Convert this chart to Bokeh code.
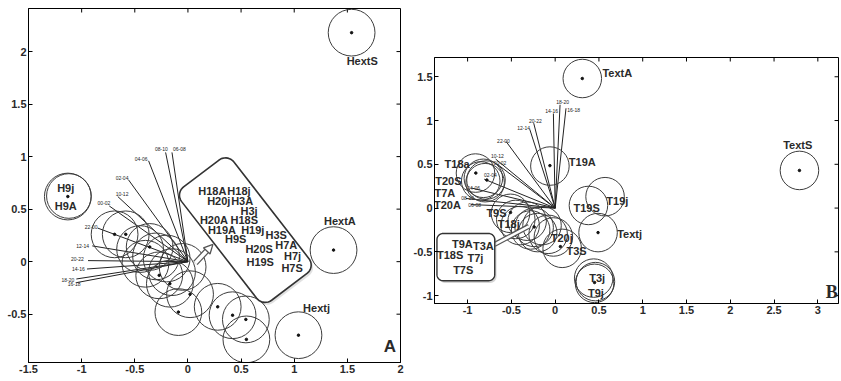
import numpy as np
from bokeh.plotting import figure
from bokeh.layouts import row
from bokeh.models import FixedTicker, Arrow, NormalHead, Range1d
from bokeh.core.properties import value
from bokeh.embed import file_html
from bokeh.resources import INLINE

FONT = "Liberation Sans"
INK = "#2a2a2a"
CIRC = "#3c3c3c"

# ---------------- Panel A data ----------------
a_xticks = [-1.5, -1, -0.5, 0, 0.5, 1, 1.5, 2]
a_yticks = [-0.5, 0, 0.5, 1, 1.5, 2]

a_circle_x = [1.54, -1.13, -1.12, 1.37, 1.04,
              -0.69, -0.585, -0.45, -0.36, -0.40, -0.30, -0.27, -0.20, -0.15, -0.17,
              -0.05, 0.02, -0.09, 0.28, 0.42, 0.545, 0.55]
a_circle_y = [2.18, 0.62, 0.625, 0.11, -0.70,
              0.26, 0.26, 0.12, 0.14, -0.02, 0.05, -0.13, 0.03, -0.10, -0.21,
              -0.05, -0.31, -0.48, -0.43, -0.51, -0.55, -0.74]
a_circle_r = [0.22, 0.22, 0.21, 0.22, 0.22,
              0.22, 0.22, 0.22, 0.22, 0.22, 0.22, 0.22, 0.22, 0.22, 0.22,
              0.22, 0.22, 0.22, 0.22, 0.22, 0.22, 0.22]
a_dot_x = [1.54, -1.13, 1.37, 1.04, -0.69, -0.585, -0.36, -0.27, -0.17, 0.02, -0.09, 0.28, 0.42, 0.545, 0.55]
a_dot_y = [2.18, 0.62, 0.11, -0.70, 0.26, 0.26, 0.14, -0.13, -0.21, -0.31, -0.48, -0.43, -0.51, -0.55, -0.74]

a_vec_names = ["08-10", "06-08", "04-06", "02-04", "10-12", "00-02", "22-00", "12-14", "20-22", "14-16", "18-20", "16-18"]
a_vec_x = [-0.21, -0.15, -0.37, -0.56, -0.66, -0.74, -0.85, -0.90, -0.94, -0.95, -1.05, -1.05]
a_vec_y = [1.04, 1.04, 0.96, 0.78, 0.62, 0.53, 0.32, 0.15, 0.01, -0.07, -0.165, -0.20]
a_vlab_x = [-0.25, -0.08, -0.44, -0.62, -0.62, -0.79, -0.91, -0.99, -1.04, -1.03, -1.13, -1.07]
a_vlab_y = [1.07, 1.07, 0.98, 0.80, 0.64, 0.56, 0.33, 0.15, 0.025, -0.07, -0.17, -0.215]

a_lab = ["HextS", "HextA", "Hextj", "H9j", "H9A",
         "H18A", "H18j", "H20j", "H3A", "H3j", "H20A", "H18S", "H19A", "H19j", "H3S",
         "H9S", "H20S", "H7A", "H19S", "H7j", "H7S"]
a_lab_x = [1.64, 1.43, 1.21, -1.15, -1.15,
           0.23, 0.48, 0.29, 0.51, 0.575, 0.245, 0.53, 0.32, 0.61, 0.83,
           0.45, 0.67, 0.925, 0.68, 0.985, 0.98]
a_lab_y = [1.91, 0.39, -0.44, 0.70, 0.53,
           0.67, 0.67, 0.575, 0.575, 0.485, 0.40, 0.40, 0.305, 0.305, 0.255,
           0.215, 0.12, 0.155, 0.0, 0.05, -0.06]

# rotated rounded box (cx, cy, width, height, angle deg, corner radius)
a_box = (0.54, 0.30, 1.36, 0.62, -52.5, 0.10)
a_arrow = (0.07, -0.013, 0.235, 0.165)

# ---------------- Panel B data ----------------
b_xticks = [-1, -0.5, 0, 0.5, 1, 1.5, 2, 2.5, 3]
b_yticks = [-1, -0.5, 0, 0.5, 1, 1.5]

b_circle_x = [0.31, 2.79, -0.06, 0.38, 0.57, 0.49, 0.44, 0.46, 0.45,
              -0.91, -0.82, -0.79, -0.80, -0.85,
              -0.51, -0.45, -0.40, -0.32, -0.28, -0.24, -0.20, -0.15, -0.08, -0.02, 0.08]
b_circle_y = [1.48, 0.43, 0.48, 0.03, 0.13, -0.28, -0.80, -0.84, -0.86,
              0.40, 0.34, 0.32, 0.29, 0.31,
              -0.06, -0.13, -0.20, -0.15, -0.25, -0.22, -0.28, -0.20, -0.30, -0.33, -0.46]
b_dot_x = [0.31, 2.79, -0.06, 0.49, -0.906, -0.78, -0.51, -0.24, 0.45, 0.06]
b_dot_y = [1.48, 0.43, 0.485, -0.28, 0.40, 0.32, -0.05, -0.215, -0.85, -0.44]

b_vec_names = ["18-20", "14-16", "16-18", "20-22", "12-14", "22-00", "10-12", "00-02", "02-04", "04-06", "08-10", "06-08"]
b_vec_x = [0.056, -0.02, 0.124, -0.245, -0.29, -0.56, -0.68, -0.66, -0.81, -0.96, -1.02, -0.96]
b_vec_y = [1.18, 1.08, 1.14, 0.97, 0.90, 0.76, 0.56, 0.50, 0.33, 0.23, 0.11, 0.04]
b_vlab_x = [0.086, -0.04, 0.21, -0.225, -0.36, -0.59, -0.66, -0.63, -0.74, -0.93, -1.0, -0.92]
b_vlab_y = [1.21, 1.11, 1.12, 1.00, 0.92, 0.77, 0.59, 0.51, 0.38, 0.23, 0.12, 0.04]

b_lab = ["TextA", "TextS", "T19A", "T18a", "T20S", "T7A", "T20A", "T9S", "T18j", "T19S", "T19j",
         "Textj", "T20j", "T3S", "T3j", "T9j", "T9A", "T3A", "T18S", "T7j", "T7S"]
b_lab_x = [0.71, 2.77, 0.31, -1.12, -1.22, -1.26, -1.23, -0.67, -0.53, 0.36, 0.71,
           0.85, 0.075, 0.245, 0.48, 0.465, -1.06, -0.82, -1.20, -0.91, -1.05]
b_lab_y = [1.545, 0.72, 0.53, 0.50, 0.31, 0.17, 0.04, -0.057, -0.18, 0.0, 0.076,
           -0.30, -0.34, -0.485, -0.80, -0.965, -0.41, -0.435, -0.54, -0.575, -0.71]

b_box = (-1.02, -0.56, 0.66, 0.54, 0.0, 0.07)
b_link = (-0.695, -0.417, -0.30, -0.208)


def rounded_rect(cx, cy, w, h, ang, r, n=10):
    hw, hh = w / 2 - r, h / 2 - r
    pts = []
    for (sx, sy, a0) in [(1, 1, 0), (-1, 1, 90), (-1, -1, 180), (1, -1, 270)]:
        t = np.radians(np.linspace(a0, a0 + 90, n))
        pts.append(np.column_stack([sx * hw + r * np.cos(t), sy * hh + r * np.sin(t)]))
    pts = np.vstack(pts)
    c, s = np.cos(np.radians(ang)), np.sin(np.radians(ang))
    xs = cx + pts[:, 0] * c - pts[:, 1] * s
    ys = cy + pts[:, 0] * s + pts[:, 1] * c
    return list(xs), list(ys)


def style(p, xt, yt, fw, fh):
    p.grid.visible = False
    p.outline_line_color = "black"
    p.outline_line_width = 1
    try:
        p.frame_align = False
    except Exception:
        pass
    for ax in p.xaxis:
        ax.ticker = FixedTicker(ticks=xt)
        ax.major_label_overrides = {v: f"{v:g}" for v in xt}
    for ax in p.yaxis:
        ax.ticker = FixedTicker(ticks=yt)
        ax.major_label_overrides = {v: f"{v:g}" for v in yt}
    for ax in p.xaxis + p.yaxis:
        ax.major_tick_in = 4
        ax.major_tick_out = 0
        ax.minor_tick_line_color = None
        ax.axis_line_color = "black"
        ax.major_tick_line_color = "black"
        ax.major_label_text_font = FONT
        ax.major_label_text_font_style = "bold"
        ax.major_label_text_font_size = "11px"
        ax.major_label_text_color = INK
        ax.major_label_standoff = 2
    # inward ticks on the top and right frame edges (4 px long)
    xr, yr = p.x_range, p.y_range
    ty = 4 * (yr.end - yr.start) / fh
    tx = 4 * (xr.end - xr.start) / fw
    p.segment(x0=xt, y0=[yr.end] * len(xt), x1=xt, y1=[yr.end - ty] * len(xt), line_color="black", line_width=1)
    p.segment(x0=[xr.end] * len(yt), y0=yt, x1=[xr.end - tx] * len(yt), y1=yt, line_color="black", line_width=1)


def draw_common(p, cx, cy, cr, dx, dy, vx, vy, vn, vlx, vly):
    p.segment(x0=[0] * len(vx), y0=[0] * len(vy), x1=vx, y1=vy, line_color="#222", line_width=1)
    p.circle(x=cx, y=cy, radius=cr, fill_color=None, line_color=CIRC, line_width=1)
    p.scatter(x=dx, y=dy, size=2.5, color="#111")
    p.text(x=vlx, y=vly, text=vn, text_font=value(FONT), text_font_size="5px",
           text_align="center", text_baseline="middle", text_color="#222")


def labels(p, lab, lx, ly):
    p.text(x=lx, y=ly, text=lab, text_font=value(FONT), text_font_style="bold",
           text_font_size="11px", text_align="center", text_baseline="middle", text_color=INK)


# ---------------- Figure A ----------------
A_W, A_H, A_L, A_R, A_T, A_B = 410, 381, 28, 10, 8, 19
pA = figure(width=A_W, height=A_H, x_range=Range1d(-1.5, 2), y_range=Range1d(-0.96, 2.41),
            output_backend="svg", toolbar_location=None,
            min_border_left=A_L, min_border_right=A_R, min_border_top=A_T, min_border_bottom=A_B)
style(pA, a_xticks, a_yticks, A_W - A_L - A_R, A_H - A_T - A_B)

bx, by = rounded_rect(*a_box)
pA.patch([x + 0.018 for x in bx], [y - 0.022 for y in by], fill_color="#aaa", fill_alpha=0.35, line_alpha=0)
pA.patch(bx, by, fill_color="white", line_alpha=0)

draw_common(pA, a_circle_x, a_circle_y, a_circle_r, a_dot_x, a_dot_y,
            a_vec_x, a_vec_y, a_vec_names, a_vlab_x, a_vlab_y)
pA.patch(bx, by, fill_color=None, line_color="#333", line_width=1.6)
labels(pA, a_lab, a_lab_x, a_lab_y)

ax0, ay0, ax1, ay1 = a_arrow
pA.segment(x0=[ax0], y0=[ay0], x1=[ax0 + 0.8 * (ax1 - ax0)], y1=[ay0 + 0.8 * (ay1 - ay0)],
           line_color="#555", line_width=6)
pA.segment(x0=[ax0], y0=[ay0], x1=[ax0 + 0.82 * (ax1 - ax0)], y1=[ay0 + 0.82 * (ay1 - ay0)],
           line_color="white", line_width=3.5)
pA.add_layout(Arrow(x_start=ax0 + 0.7 * (ax1 - ax0), y_start=ay0 + 0.7 * (ay1 - ay0), x_end=ax1, y_end=ay1,
                    line_alpha=0, end=NormalHead(size=9, fill_color="white", line_color="#555", line_width=1.3)))

pA.text(x=[1.90], y=[-0.81], text=["A"], text_font=value(FONT), text_font_style="bold",
        text_font_size="17px", text_align="center", text_baseline="middle", text_color=INK)

# ---------------- Figure B ----------------
B_W, B_H, B_L, B_R, B_T, B_B = 431, 328, 19, 3, 57, 25
pB = figure(width=B_W, height=B_H, x_range=Range1d(-1.378, 3.236), y_range=Range1d(-1.09, 1.72),
            output_backend="svg", toolbar_location=None,
            min_border_left=B_L, min_border_right=B_R, min_border_top=B_T, min_border_bottom=B_B)
style(pB, b_xticks, b_yticks, B_W - B_L - B_R, B_H - B_T - B_B)

b_r = [0.22] * len(b_circle_x)
draw_common(pB, b_circle_x, b_circle_y, b_r, b_dot_x, b_dot_y,
            b_vec_x, b_vec_y, b_vec_names, b_vlab_x, b_vlab_y)

lx0, ly0, lx1, ly1 = b_link
pB.segment(x0=[lx0], y0=[ly0], x1=[lx1], y1=[ly1], line_color="#555", line_width=5)
pB.segment(x0=[lx0], y0=[ly0], x1=[lx1], y1=[ly1], line_color="white", line_width=2.5)

cx, cy, w, h, ang, r = b_box
bx, by = rounded_rect(cx, cy, w, h, ang, r)
pB.patch([x + 0.02 for x in bx], [y - 0.025 for y in by], fill_color="#888", fill_alpha=0.35, line_alpha=0)
pB.patch(bx, by, fill_color="white", line_color="#333", line_width=1.4)

labels(pB, b_lab, b_lab_x, b_lab_y)
pB.text(x=[3.16], y=[-0.955], text=["B"], text_font=value("Liberation Serif"), text_font_style="bold",
        text_font_size="18px", text_align="center", text_baseline="middle", text_color=INK)

layout = row(pA, pB)
open("out.html", "w").write(file_html(layout, INLINE))
